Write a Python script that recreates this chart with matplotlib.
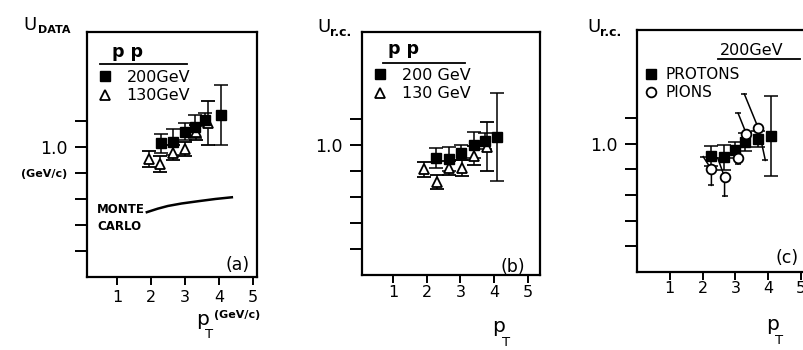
import matplotlib
matplotlib.use("Agg")
import matplotlib.pyplot as plt
from matplotlib.lines import Line2D

W, H = 804, 350

# ---- panel (a): U_DATA, pp ----
a_x200 = [2.30, 2.65, 3.00, 3.30, 3.60, 4.05]
a_y200 = [1.03, 1.045, 1.12, 1.16, 1.215, 1.25]
a_e200 = [0.075, 0.10, 0.065, 0.09, 0.05, 0.235]
a_x130 = [1.95, 2.28, 2.65, 3.00, 3.32, 3.68]
a_y130 = [0.91, 0.87, 0.96, 0.985, 1.115, 1.19]
a_e130 = [0.06, 0.06, 0.055, 0.055, 0.055, 0.17]
mc_x = [1.88, 2.2, 2.5, 2.9, 3.4, 3.9, 4.38]
mc_y = [0.50, 0.527, 0.548, 0.567, 0.585, 0.602, 0.615]

# ---- panel (b): U_r.c., pp ----
b_x200 = [2.27, 2.65, 3.02, 3.40, 3.73, 4.10]
b_y200 = [0.905, 0.895, 0.945, 1.0, 1.035, 1.065]
b_e200 = [0.077, 0.09, 0.06, 0.10, 0.06, 0.34]
b_x130 = [1.92, 2.30, 2.67, 3.04, 3.40, 3.80]
b_y130 = [0.815, 0.72, 0.825, 0.825, 0.92, 0.99]
b_e130 = [0.06, 0.055, 0.055, 0.06, 0.075, 0.19]

# ---- panel (c): U_r.c., 200 GeV protons / pions ----
c_xp = [2.27, 2.65, 2.98, 3.28, 3.69, 4.07]
c_yp = [0.905, 0.893, 0.953, 1.015, 1.037, 1.062]
c_ep = [0.08, 0.10, 0.065, 0.07, 0.06, 0.31]
c_xpi = [2.27, 2.67, 3.08, 3.33, 3.70]
c_ypi = [0.80, 0.74, 0.89, 1.08, 1.12]
c_epi_up = [0.10, 0.15, 0.05, 0.16, 0.27]
c_epi_dn = [0.125, 0.15, 0.05, 0.08, 0.25]
# sideways lean of the pion bars (drawn offset to clear the proton points)
lean_up = [-0.25, -0.21, 0.0, -0.25, -0.43]
lean_dn = [0.0, 0.0, 0.0, 0.0, 0.21]

x_ticks = [1, 2, 3, 4, 5]
y_ticks = [0.2, 0.4, 0.6, 0.8, 1.0, 1.2]

plt.rcParams['font.family'] = ['DejaVu Sans']
fig = plt.figure(figsize=(W / 100, H / 100), dpi=100)


def box(l, t, r, b):
    return [l / W, 1 - b / H, (r - l) / W, (b - t) / H]


def ftxt(x, y, s, **kw):
    fig.text(x / W, 1 - y / H, s, **kw)


def uline(x0, x1, y):
    fig.add_artist(Line2D([x0 / W, x1 / W], [1 - y / H] * 2,
                          transform=fig.transFigure, color='k', lw=1.3))


def style(ax, xlim, ylim, ylabels, xpad):
    ax.set_xlim(*xlim)
    ax.set_ylim(*ylim)
    ax.set_xticks(x_ticks)
    ax.set_yticks(y_ticks, labels=ylabels)
    ax.tick_params(axis='y', direction='out', length=9, width=1.4,
                   labelsize=12.5, pad=5)
    ax.tick_params(axis='x', direction='out', length=6, width=1.4,
                   labelsize=11.5, pad=xpad)
    for t in ax.get_yticklabels():
        if t.get_text() == '(GeV/c)':
            t.set_fontsize(8)
            t.set_fontweight('bold')
    for s in ax.spines.values():
        s.set_linewidth(1.6)


eb = dict(ecolor='k', elinewidth=1.1, capsize=5, capthick=1.1, ls='none')
sq = dict(fmt='s', color='k', ms=6.5)
tri = dict(fmt='^', mfc='white', mec='k', ms=7, mew=1.3)

# ---------------- (a) ----------------
ax = fig.add_axes(box(87, 32, 257, 277))
ax.errorbar(a_x130, a_y130, yerr=a_e130, **tri, **eb)
ax.errorbar(a_x200, a_y200, yerr=a_e200, **sq, **eb)
ax.plot(mc_x, mc_y, color='k', lw=1.8)
style(ax, (0.12, 5.12), (0.0, 1.89), ['', '', '', '(GeV/c)', '1.0', ''], 3.5)
h = [Line2D([], [], marker='s', color='k', ms=6.5, ls='none'),
     Line2D([], [], marker='^', mfc='white', mec='k', ms=7, mew=1.3, ls='none')]
ax.legend(h, ['200GeV', '130GeV'], loc='upper left', bbox_to_anchor=(0.059, 0.845),
          frameon=False, fontsize=11.5, handlelength=1.0, handletextpad=0.85,
          labelspacing=0.2, borderpad=0, borderaxespad=0)
ftxt(112, 57, 'p p', fontsize=12.5, fontweight='bold', va='baseline')
uline(100, 187, 64)
ftxt(97, 209, 'MONTE', fontsize=8.5, fontweight='bold', va='center')
ftxt(97, 227, 'CARLO', fontsize=8.5, fontweight='bold', va='center')
ftxt(238, 265, '(a)', fontsize=12.5, ha='center', va='center')
ftxt(23, 30, 'U', fontsize=13, va='baseline')
ftxt(38, 33, 'DATA', fontsize=8, fontweight='bold', va='baseline')
ftxt(196, 325, 'p', fontsize=14.5, va='baseline')
ftxt(205, 338, 'T', fontsize=9.5, va='baseline')
ftxt(214, 318, '(GeV/c)', fontsize=8, fontweight='bold', va='baseline')

# ---------------- (b) ----------------
ax = fig.add_axes(box(362.3, 32, 540, 275))
ax.errorbar(b_x130, b_y130, yerr=b_e130, **tri, **eb)
ax.errorbar(b_x200, b_y200, yerr=b_e200, **sq, **eb)
style(ax, (0.08, 5.37), (0.0, 1.875), ['', '', '', '', '1.0', ''], 1.5)
ax.legend(h, ['200 GeV', '130 GeV'], loc='upper left', bbox_to_anchor=(0.055, 0.852),
          frameon=False, fontsize=11.5, handlelength=1.0, handletextpad=0.9,
          labelspacing=0.2, borderpad=0, borderaxespad=0)
ftxt(388, 54, 'p p', fontsize=12.5, fontweight='bold', va='baseline')
uline(383, 465, 63)
ftxt(513, 267, '(b)', fontsize=12.5, ha='center', va='center')
ftxt(317, 32, 'U', fontsize=13, va='baseline')
ftxt(330, 36, 'r.c.', fontsize=9, fontweight='bold', va='baseline')
ftxt(492, 332, 'p', fontsize=14.5, va='baseline')
ftxt(502, 346, 'T', fontsize=9.5, va='baseline')

# ---------------- (c) ----------------
ax = fig.add_axes(box(636.7, 30, 814.4, 271.7))
ax.errorbar(c_xp, c_yp, yerr=c_ep, **sq, **eb)
for x, y, eu, ed, lu, ld in zip(c_xpi, c_ypi, c_epi_up, c_epi_dn, lean_up, lean_dn):
    ax.plot([x + lu, x, x + ld], [y + eu, y, y - ed], color='k', lw=1.1, zorder=2)
    ax.plot([x + lu, x + ld], [y + eu, y - ed], ls='none', marker='_', ms=5,
            mew=1.1, color='k', zorder=2)
ax.plot(c_xpi, c_ypi, 'o', mfc='white', mec='k', ms=7, mew=1.3, zorder=3)
style(ax, (0.0, 5.4), (0.0, 1.89), ['', '', '', '', '1.0', ''], 0.5)
hc = [Line2D([], [], marker='s', color='k', ms=6.5, ls='none'),
      Line2D([], [], marker='o', mfc='white', mec='k', ms=7, mew=1.3, ls='none')]
ax.legend(hc, ['PROTONS', 'PIONS'], loc='upper left', bbox_to_anchor=(0.039, 0.847),
          frameon=False, fontsize=11, handlelength=1.0, handletextpad=0.45,
          labelspacing=0.2, borderpad=0, borderaxespad=0)
ftxt(720, 55, '200GeV', fontsize=11.5, va='baseline')
uline(718, 800, 58.5)
ftxt(787, 258, '(c)', fontsize=12.5, ha='center', va='center')
ftxt(587, 32, 'U', fontsize=13, va='baseline')
ftxt(600, 36, 'r.c.', fontsize=9, fontweight='bold', va='baseline')
ftxt(766, 330, 'p', fontsize=14.5, va='baseline')
ftxt(775, 344, 'T', fontsize=9.5, va='baseline')

fig.savefig('out.png', dpi=100)
